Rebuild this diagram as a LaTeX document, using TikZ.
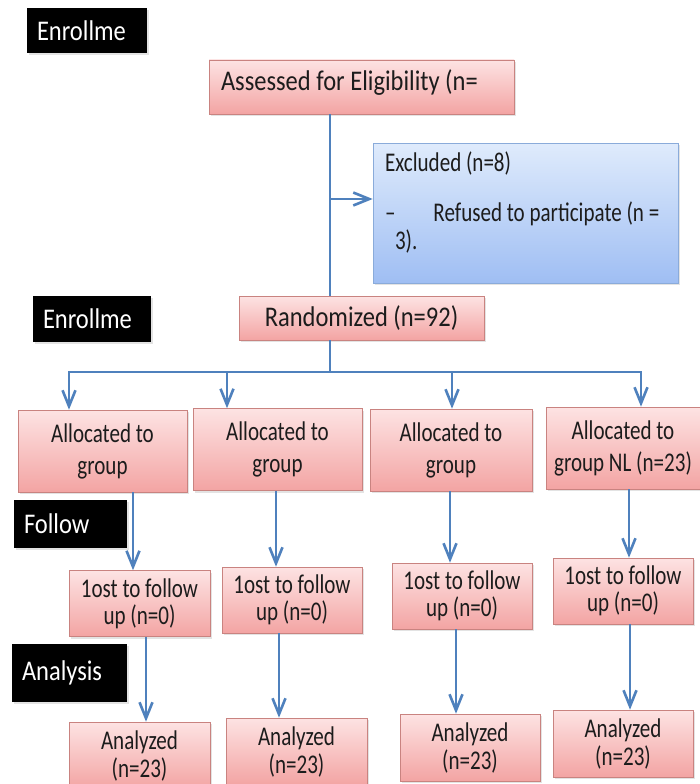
\documentclass[tikz,border=0pt]{standalone}
\usepackage{fontspec}
\setmainfont{Carlito}[FakeStretch=0.78]
\newfontfamily\bigFont{Carlito}[FakeStretch=0.86]
\usepackage{xcolor}
\definecolor{ink}{HTML}{1C1C1C}
\definecolor{flowBlue}{HTML}{4F81BD}
\definecolor{pinkTop}{HTML}{FDE3E3}
\definecolor{pinkBot}{HTML}{F3A4A3}
\definecolor{pinkEdge}{HTML}{C98380}
\definecolor{blueTop}{HTML}{DFEBFC}
\definecolor{blueBot}{HTML}{9FBEF3}
\definecolor{blueEdge}{HTML}{8AABDA}
\usepackage{tikz}
\usetikzlibrary{arrows.meta, shadows, calc}

\begin{document}
\begin{tikzpicture}[
  x=1pt, y=-1pt,
  bigText/.style={font=\bigFont\fontsize{28.5}{32}\selectfont},
  smallText/.style={font=\fontsize{27}{27}\selectfont},
  shade/.style={drop shadow={shadow xshift=1.5pt, shadow yshift=-2pt, opacity=0.22}},
  box/.style={rectangle, draw=pinkEdge, semithick, top color=pinkTop, bottom color=pinkBot,
    text=ink, align=center, inner sep=2pt, shade},
  allocBox/.style={box, font=\fontsize{27}{32}\selectfont, minimum height=82},
  lostBox/.style={box, smallText, minimum width=140, minimum height=66},
  doneBox/.style={box, font=\fontsize{27}{28}\selectfont, minimum width=141, minimum height=67},
  exclBox/.style={rectangle, draw=blueEdge, semithick, top color=blueTop, bottom color=blueBot,
    text=ink, inner sep=0pt, smallText, shade},
  stageBox/.style={rectangle, fill=black, text=white, bigText, align=left,
    inner xsep=10pt, inner ysep=0pt, text width=#1, shade},
  link/.style={flowBlue, line width=2.6pt},
  arrow/.style={link, -{Straight Barb[length=16pt, width=13pt]}},
]

\clip (0,0) rectangle (700,784);
\fill[white] (0,0) rectangle (700,784);

% ------------------- Stage labels (left) -------------------
\node[stageBox=100pt, minimum height=45] (enrollA) at (87,30.5) {Enrollme};
\node[stageBox=98pt, minimum height=46] (enrollB) at (92,319) {Enrollme};
\node[stageBox=93pt, minimum height=48] (follow) at (70.5,524) {Follow};
\node[stageBox=95pt, minimum height=58] (analysis) at (69.5,673) {Analysis};

% ------------------- Enrolment -------------------
\node[box, bigText, minimum width=305, minimum height=54, text height=21pt, text depth=15pt]
  (assessed) at (361.5,87) {\makebox[281pt][l]{Assessed for Eligibility (n=}};
\node[exclBox] (excluded) at (525.5,213) {%
  \parbox[c][140pt][t]{305pt}{\raggedright\leftskip=12pt
    \vspace*{9pt}Excluded (n=8)\\[23pt]
    –\hspace{38pt}Refused to participate (n =\\[1pt]
    \hspace*{10pt}3).}};
\node[box, bigText, minimum width=245, minimum height=44] (randomized) at (361.5,318) {Randomized (n=92)};

\draw[link] ([xshift=-31.5pt]assessed.south) -- ([xshift=-31.5pt]randomized.north);
\coordinate (exclTap) at (330,199);
\draw[arrow] (exclTap) -- (exclTap -| excluded.west);

% ------------------- Allocation -------------------
\node[allocBox, minimum width=169] (alloc1) at (102.5,451) {Allocated to\\group};
\node[allocBox, minimum width=169] (alloc2) at (277.5,449.5) {Allocated to\\group};
\node[allocBox, minimum width=162] (alloc3) at (451,450) {Allocated to\\group};
\node[allocBox, minimum width=154] (alloc4) at (623,448) {Allocated to\\group NL (n=23)};

\coordinate (tap1) at (69,372);
\coordinate (tap2) at (227,372);
\coordinate (tap3) at (452,372);
\coordinate (tap4) at (641,372);
\draw[link] ([xshift=-31.5pt]randomized.south) -- ([xshift=-31.5pt]randomized.south |- tap1);
\draw[link] (tap2) -- (tap3);
\draw[arrow] (tap2) -| (tap1 |- alloc1.north);
\draw[arrow] (tap3) -| (tap4 |- alloc4.north);
\draw[arrow] (tap2) -- (tap2 |- alloc2.north);
\draw[arrow] (tap3) -- (tap3 |- alloc3.north);

% ------------------- Follow-up -------------------
\node[lostBox, minimum width=141] (lost1) at (139.5,603.5) {1ost to follow\\up (n=0)};
\node[lostBox] (lost2) at (292,600) {1ost to follow\\up (n=0)};
\node[lostBox] (lost3) at (462,596) {1ost to follow\\up (n=0)};
\node[lostBox] (lost4) at (623,591) {1ost to follow\\up (n=0)};

\coordinate (f1) at ([xshift=30.5pt]alloc1.south);
\coordinate (f2) at ([xshift=-1.5pt]alloc2.south);
\coordinate (f3) at ([xshift=-1pt]alloc3.south);
\coordinate (f4) at ([xshift=6pt]alloc4.south);
\draw[arrow] (f1) -- (f1 |- lost1.north);
\draw[arrow] (f2) -- (f2 |- lost2.north);
\draw[arrow] (f3) -- (f3 |- lost3.north);
\draw[arrow] (f4) -- (f4 |- lost4.north);

% ------------------- Analysis -------------------
\node[doneBox] (done1) at (139.5,755.5) {Analyzed\\(n=23)};
\node[doneBox] (done2) at (296.5,751.5) {Analyzed\\(n=23)};
\node[doneBox, minimum width=140] (done3) at (470,747.5) {Analyzed\\(n=23)};
\node[doneBox, minimum width=140] (done4) at (623,743.5) {Analyzed\\(n=23)};

\coordinate (a1) at ([xshift=6.5pt]lost1.south);
\coordinate (a2) at ([xshift=-13pt]lost2.south);
\coordinate (a3) at ([xshift=-6pt]lost3.south);
\coordinate (a4) at ([xshift=7pt]lost4.south);
\draw[arrow] (a1) -- (a1 |- done1.north);
\draw[arrow] (a2) -- (a2 |- done2.north);
\draw[arrow] (a3) -- (a3 |- done3.north);
\draw[arrow] (a4) -- (a4 |- done4.north);

\end{tikzpicture}
\end{document}
